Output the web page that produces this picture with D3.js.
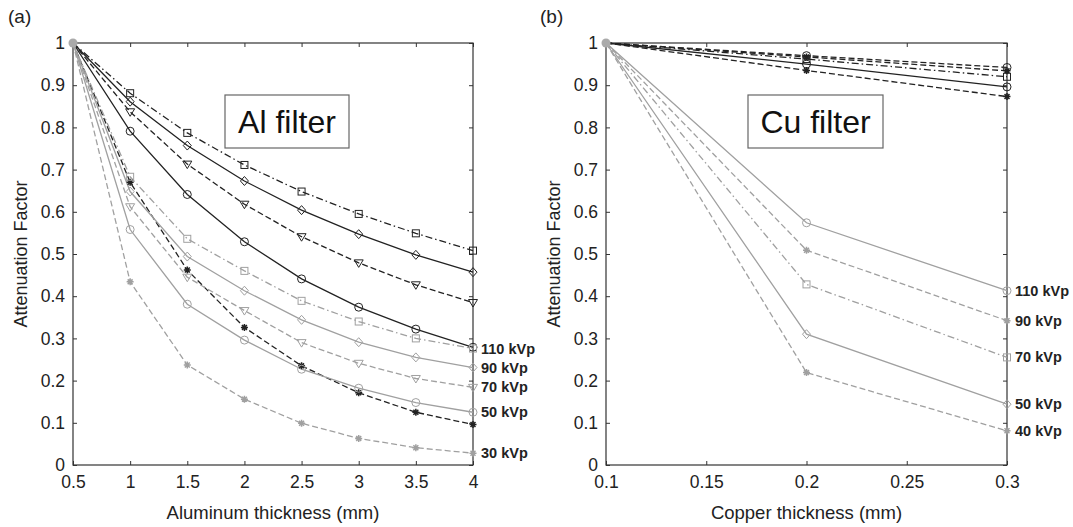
<!DOCTYPE html>
<html lang="en">
<head>
<meta charset="UTF-8">
<title>Attenuation factor</title>
<script src="https://d3js.org/d3.v7.min.js"></script>
<style>
  body { margin: 0; background: #fff; }
  text { font-family: "Liberation Sans", Arial, sans-serif; }
</style>
</head>
<body>
<script>
// ---- data ----
const alThick = [0.5, 1, 1.5, 2, 2.5, 3, 3.5, 4];
const alTicksX = [0.5, 1, 1.5, 2, 2.5, 3, 3.5, 4];

// black series (Al)
const alBlackSquare   = [1, 0.881, 0.787, 0.711, 0.648, 0.595, 0.549, 0.508];
const alBlackDiamond  = [1, 0.861, 0.757, 0.673, 0.604, 0.547, 0.498, 0.457];
const alBlackTriangle = [1, 0.837, 0.713, 0.618, 0.541, 0.479, 0.427, 0.385];
const alBlackCircle   = [1, 0.791, 0.641, 0.529, 0.441, 0.374, 0.322, 0.279];
const alBlackStar     = [1, 0.670, 0.462, 0.326, 0.235, 0.171, 0.125, 0.096];
// gray series (Al)
const alGraySquare    = [1, 0.683, 0.536, 0.460, 0.389, 0.340, 0.300, 0.276];
const alGrayDiamond   = [1, 0.648, 0.494, 0.413, 0.344, 0.291, 0.255, 0.231];
const alGrayTriangle  = [1, 0.612, 0.445, 0.366, 0.290, 0.241, 0.205, 0.184];
const alGrayCircle    = [1, 0.558, 0.381, 0.296, 0.227, 0.182, 0.148, 0.125];
const alGrayStar      = [1, 0.434, 0.237, 0.156, 0.099, 0.063, 0.041, 0.028];
const alLabels = ["110 kVp", "90 kVp", "70 kVp", "50 kVp", "30 kVp"];

const cuThick = [0.1, 0.2, 0.3];
const cuTicksX = [0.1, 0.15, 0.2, 0.25, 0.3];
// black series (Cu)
const cuBlackA = [1, 0.970, 0.942];
const cuBlackB = [1, 0.967, 0.934];
const cuBlackC = [1, 0.962, 0.920];
const cuBlackD = [1, 0.950, 0.896];
const cuBlackE = [1, 0.935, 0.873];
// gray series (Cu)
const cu110 = [1, 0.574, 0.413];
const cu90  = [1, 0.509, 0.342];
const cu70  = [1, 0.428, 0.255];
const cu50  = [1, 0.310, 0.144];
const cu40  = [1, 0.219, 0.081];
const cuLabels = ["110 kVp", "90 kVp", "70 kVp", "50 kVp", "40 kVp"];

const yTicks = [0, 0.1, 0.2, 0.3, 0.4, 0.5, 0.6, 0.7, 0.8, 0.9, 1];

// ---- styles ----
const BLACK = "#222", GRAY = "#a0a0a0";
const DASH = "6,3", DASHDOT = "7,3,1.5,3", SOLID = null;

const svg = d3.select("body").append("svg")
    .attr("width", 1073).attr("height", 527);

function marker(g, type, x, y, color) {
    if (type === "square") {
        g.append("rect").attr("x", x - 3.5).attr("y", y - 3.5)
            .attr("width", 7).attr("height", 7)
            .attr("fill", "none").attr("stroke", color).attr("stroke-width", 1);
    } else if (type === "diamond") {
        g.append("path").attr("d", `M${x},${y - 4.5}L${x + 4},${y}L${x},${y + 4.5}L${x - 4},${y}Z`)
            .attr("fill", "none").attr("stroke", color).attr("stroke-width", 1);
    } else if (type === "triangle") {
        g.append("path").attr("d", `M${x - 4.5},${y - 3}L${x + 4.5},${y - 3}L${x},${y + 4.5}Z`)
            .attr("fill", "none").attr("stroke", color).attr("stroke-width", 1);
    } else if (type === "circle") {
        g.append("circle").attr("cx", x).attr("cy", y).attr("r", 4)
            .attr("fill", "none").attr("stroke", color).attr("stroke-width", 1);
    } else if (type === "star") {
        const r = 3.5;
        let d = "";
        for (let k = 0; k < 4; k++) {
            const a = k * Math.PI / 4;
            d += `M${x - r * Math.cos(a)},${y - r * Math.sin(a)}L${x + r * Math.cos(a)},${y + r * Math.sin(a)}`;
        }
        g.append("path").attr("d", d).attr("stroke", color).attr("stroke-width", 1.5);
    }
}

function panel(opts) {
    const { left, right, top, bottom, xDomain, xTicks, series, labels, labelSeries, boxText, box, tag } = opts;
    const x = d3.scaleLinear().domain(xDomain).range([left, right]);
    const y = d3.scaleLinear().domain([0, 1]).range([bottom, top]);
    const g = svg.append("g");

    // frame
    g.append("rect").attr("x", left).attr("y", top)
        .attr("width", right - left).attr("height", bottom - top)
        .attr("fill", "none").attr("stroke", "#333").attr("stroke-width", 1.2);

    // axes, ticks pointing inward
    const fmt = d => String(+d.toFixed(2));
    const xb = g.append("g").attr("transform", `translate(0,${bottom})`)
        .call(d3.axisBottom(x).tickValues(xTicks).tickSizeInner(-4).tickSizeOuter(0).tickPadding(11).tickFormat(fmt));
    const xt = g.append("g").attr("transform", `translate(0,${top})`)
        .call(d3.axisTop(x).tickValues(xTicks).tickSizeInner(-4).tickSizeOuter(0).tickFormat(""));
    const yl = g.append("g").attr("transform", `translate(${left},0)`)
        .call(d3.axisLeft(y).tickValues(yTicks).tickSizeInner(-4).tickSizeOuter(0).tickPadding(8).tickFormat(fmt));
    const yr = g.append("g").attr("transform", `translate(${right},0)`)
        .call(d3.axisRight(y).tickValues(yTicks).tickSizeInner(-4).tickSizeOuter(0).tickFormat(""));
    [xb, xt, yl, yr].forEach(a => {
        a.select(".domain").remove();
        a.selectAll("line").attr("stroke", "#333");
        a.selectAll("text").attr("font-size", 17.5).attr("fill", "#222")
            .attr("font-family", "'Liberation Sans', Arial, sans-serif");
    });

    // annotation box
    g.append("rect").attr("x", box[0]).attr("y", box[1]).attr("width", box[2]).attr("height", box[3])
        .attr("fill", "#fff").attr("stroke", "#666").attr("stroke-width", 1.2);
    g.append("text").attr("x", box[0] + box[2] / 2).attr("y", box[1] + box[3] / 2 + 11)
        .attr("text-anchor", "middle").attr("font-size", 32).attr("fill", "#111").text(boxText);

    // series lines
    const line = d3.line().x(d => x(d[0])).y(d => y(d[1]));
    series.forEach(s => {
        const pts = s.xs.map((v, i) => [v, s.ys[i]]);
        g.append("path").datum(pts).attr("d", line)
            .attr("fill", "none").attr("stroke", s.color).attr("stroke-width", 1.3)
            .attr("stroke-dasharray", s.dash);
    });
    series.forEach(s => {
        s.xs.forEach((v, i) => {
            if (i === 0) return;
            marker(g, s.marker, x(v), y(s.ys[i]), s.color);
        });
    });
    // shared start point
    g.append("circle").attr("cx", x(xDomain[0])).attr("cy", y(1)).attr("r", 4.5).attr("fill", "#aaa");

    // end labels
    labels.forEach((t, i) => {
        const s = labelSeries[i];
        g.append("text").attr("x", right + 8).attr("y", y(s[s.length - 1]) + 5)
            .attr("font-size", 14.5).attr("font-weight", "bold").attr("fill", "#222").text(t);
    });

    // axis titles
    g.append("text").attr("x", (left + right) / 2).attr("y", 519)
        .attr("text-anchor", "middle").attr("font-size", 18.5).attr("fill", "#222").text(opts.xTitle);
    g.append("text").attr("transform", `translate(${left - 46},${(top + bottom) / 2}) rotate(-90)`)
        .attr("text-anchor", "middle").attr("font-size", 18).attr("fill", "#222").text("Attenuation Factor");
    g.append("text").attr("x", tag[1]).attr("y", 23).attr("font-size", 19).attr("fill", "#222").text(tag[0]);
}

panel({
    left: 73, right: 473, top: 43, bottom: 465,
    xDomain: [0.5, 4], xTicks: alTicksX,
    xTitle: "Aluminum thickness (mm)",
    boxText: "Al filter", box: [225, 95, 124, 53], tag: ["(a)", 8],
    series: [
        { xs: alThick, ys: alBlackSquare,   color: BLACK, dash: DASHDOT, marker: "square" },
        { xs: alThick, ys: alBlackDiamond,  color: BLACK, dash: SOLID,   marker: "diamond" },
        { xs: alThick, ys: alBlackTriangle, color: BLACK, dash: DASH,    marker: "triangle" },
        { xs: alThick, ys: alBlackCircle,   color: BLACK, dash: SOLID,   marker: "circle" },
        { xs: alThick, ys: alBlackStar,     color: BLACK, dash: DASH,    marker: "star" },
        { xs: alThick, ys: alGraySquare,    color: GRAY,  dash: DASHDOT, marker: "square" },
        { xs: alThick, ys: alGrayDiamond,   color: GRAY,  dash: SOLID,   marker: "diamond" },
        { xs: alThick, ys: alGrayTriangle,  color: GRAY,  dash: DASH,    marker: "triangle" },
        { xs: alThick, ys: alGrayCircle,    color: GRAY,  dash: SOLID,   marker: "circle" },
        { xs: alThick, ys: alGrayStar,      color: GRAY,  dash: DASH,    marker: "star" }
    ],
    labels: alLabels,
    labelSeries: [alGraySquare, alGrayDiamond, alGrayTriangle, alGrayCircle, alGrayStar]
});

panel({
    left: 606, right: 1007, top: 43, bottom: 465,
    xDomain: [0.1, 0.3], xTicks: cuTicksX,
    xTitle: "Copper thickness (mm)",
    boxText: "Cu filter", box: [748, 95, 135, 53], tag: ["(b)", 540],
    series: [
        { xs: cuThick, ys: cuBlackA, color: BLACK, dash: DASH,    marker: "circle" },
        { xs: cuThick, ys: cuBlackB, color: BLACK, dash: DASH,    marker: "star" },
        { xs: cuThick, ys: cuBlackC, color: BLACK, dash: DASHDOT, marker: "square" },
        { xs: cuThick, ys: cuBlackD, color: BLACK, dash: SOLID,   marker: "circle" },
        { xs: cuThick, ys: cuBlackE, color: BLACK, dash: DASH,    marker: "star" },
        { xs: cuThick, ys: cu110, color: GRAY, dash: SOLID,   marker: "circle" },
        { xs: cuThick, ys: cu90,  color: GRAY, dash: DASH,    marker: "star" },
        { xs: cuThick, ys: cu70,  color: GRAY, dash: DASHDOT, marker: "square" },
        { xs: cuThick, ys: cu50,  color: GRAY, dash: SOLID,   marker: "diamond" },
        { xs: cuThick, ys: cu40,  color: GRAY, dash: DASH,    marker: "star" }
    ],
    labels: cuLabels,
    labelSeries: [cu110, cu90, cu70, cu50, cu40]
});
</script>
</body>
</html>
